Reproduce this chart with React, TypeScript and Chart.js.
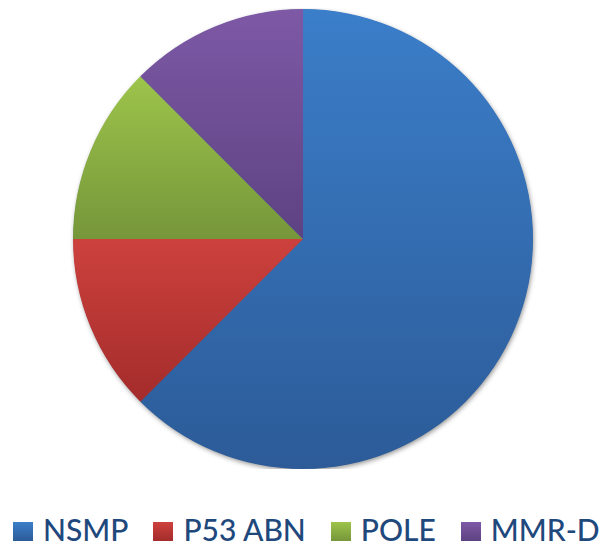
import React, { useEffect, useRef } from "react";
import { Chart, registerables } from "chart.js";

Chart.register(...registerables);

const categories = ["NSMP", "P53 ABN", "POLE", "MMR-D"];
const values = [5, 1, 1, 1];
const topColors = ["#3b7ec9", "#cd413d", "#9dc44b", "#7e59a6"];
const bottomColors = ["#2c5b98", "#a32c2b", "#76963a", "#5d4282"];
const legendTextColor = "#1f497d";

function sliceGradient(c: any) {
  const i = c.dataIndex;
  if (i === undefined) return topColors[0];
  const chart = c.chart;
  const area = chart.chartArea;
  if (!area) return topColors[i];
  const data = chart.data.datasets[0].data as number[];
  const total = data.reduce((a, b) => a + b, 0);
  const cx = (area.left + area.right) / 2;
  const cy = (area.top + area.bottom) / 2;
  const r = Math.min(area.width, area.height) / 2;
  let acc = 0;
  for (let j = 0; j < i; j++) acc += data[j];
  const a0 = -Math.PI / 2 + (2 * Math.PI * acc) / total;
  const a1 = a0 + (2 * Math.PI * data[i]) / total;
  const ys = [cy, cy + r * Math.sin(a0), cy + r * Math.sin(a1)];
  for (const t of [-Math.PI / 2, Math.PI / 2, (3 * Math.PI) / 2]) {
    if (t >= a0 && t <= a1) ys.push(cy + r * Math.sin(t));
  }
  const minY = Math.min(...ys);
  const maxY = Math.max(...ys);
  const g = chart.ctx.createLinearGradient(0, minY, 0, maxY + 0.01);
  g.addColorStop(0, topColors[i]);
  g.addColorStop(1, bottomColors[i]);
  return g;
}

const shadowPlugin = {
  id: "pieShadow",
  beforeDatasetsDraw(chart: any) {
    const meta = chart.getDatasetMeta(0);
    const arc = meta.data[0];
    if (!arc) return;
    const ctx = chart.ctx;
    ctx.save();
    ctx.shadowColor = "rgba(0,0,0,0.45)";
    ctx.shadowBlur = 5;
    ctx.shadowOffsetX = 1;
    ctx.shadowOffsetY = 2;
    ctx.fillStyle = "#2f62a3";
    ctx.beginPath();
    ctx.arc(arc.x, arc.y, arc.outerRadius - 0.5, 0, Math.PI * 2);
    ctx.fill();
    ctx.restore();
  },
};

export default function App() {
  const ref = useRef<HTMLCanvasElement | null>(null);
  useEffect(() => {
    if (!ref.current) return;
    const chart = new Chart(ref.current, {
      type: "pie",
      data: {
        labels: categories,
        datasets: [
          {
            data: values,
            backgroundColor: sliceGradient as any,
            borderWidth: 0,
            hoverOffset: 0,
            offset: 0,
          },
        ],
      },
      options: {
        animation: false,
        responsive: true,
        maintainAspectRatio: false,
        layout: { padding: { top: 1, right: 4, left: 0, bottom: 0 } },
        plugins: {
          legend: { display: false },
          tooltip: { enabled: false },
        },
      },
      plugins: [shadowPlugin],
    });
    return () => chart.destroy();
  }, []);

  return (
    <div>
      <div style={{ position: "relative", width: 594, height: 461 }}>
        <canvas ref={ref} />
      </div>
      <div
        style={{
          marginTop: 42,
          display: "flex",
          paddingLeft: 5,
          whiteSpace: "nowrap",
          fontFamily: "Lato, 'Open Sans', sans-serif",
          fontSize: 30,
          fontWeight: 500,
          lineHeight: "36px",
          color: legendTextColor,
        }}
      >
        {categories.map((c, i) => (
          <span key={c} style={{ marginRight: i < categories.length - 1 ? 25 : 0 }}>
            <span
              style={{
                display: "inline-block",
                width: 20,
                height: 19,
                marginRight: 10,
                verticalAlign: 0,
                background: `linear-gradient(${topColors[i]}, ${bottomColors[i]})`,
              }}
            />
            {c}
          </span>
        ))}
      </div>
    </div>
  );
}
